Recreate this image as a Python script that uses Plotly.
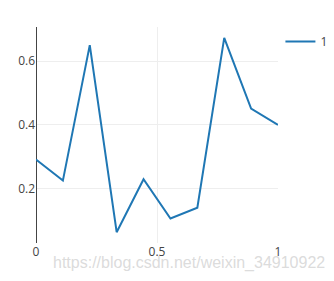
import plotly.graph_objects as go

x_vals = [0, 0.1111, 0.2222, 0.3333, 0.4444, 0.5556, 0.6667, 0.7778, 0.8889, 1]
y_vals = [0.291, 0.225, 0.650, 0.063, 0.229, 0.106, 0.140, 0.673, 0.451, 0.400]
trace_name = "1"
watermark = "https://blog.csdn.net/weixin_34910922"

fig = go.Figure()
fig.add_trace(go.Scatter(x=x_vals, y=y_vals, mode="lines", name=trace_name,
                         line=dict(color="#1f77b4", width=2)))
fig.update_layout(
    width=334, height=281,
    margin=dict(l=36, r=56, t=27, b=38, autoexpand=False),
    paper_bgcolor="white", plot_bgcolor="white",
    font=dict(family="Open Sans", size=12, color="#444"),
    showlegend=True,
    legend=dict(x=1.01, y=1, xanchor="left", yanchor="top"),
    xaxis=dict(range=[0, 1], tickvals=[0, 0.5, 1], ticktext=["0", "0.5", "1"],
               showgrid=True, gridcolor="#eee", zeroline=True, zerolinecolor="#444",
               zerolinewidth=1, showline=False, ticks=""),
    yaxis=dict(tickvals=[0.2, 0.4, 0.6], ticktext=["0.2", "0.4", "0.6"],
               showgrid=True, gridcolor="#eee", zeroline=False, showline=False, ticks=""),
    annotations=[dict(text=watermark, x=0.632, y=-0.093, xref="paper", yref="paper",
                      xanchor="center", yanchor="middle", showarrow=False,
                      font=dict(family="Liberation Sans", size=16, color="rgba(215,215,215,0.9)"))],
)
fig.write_html("out.html")
